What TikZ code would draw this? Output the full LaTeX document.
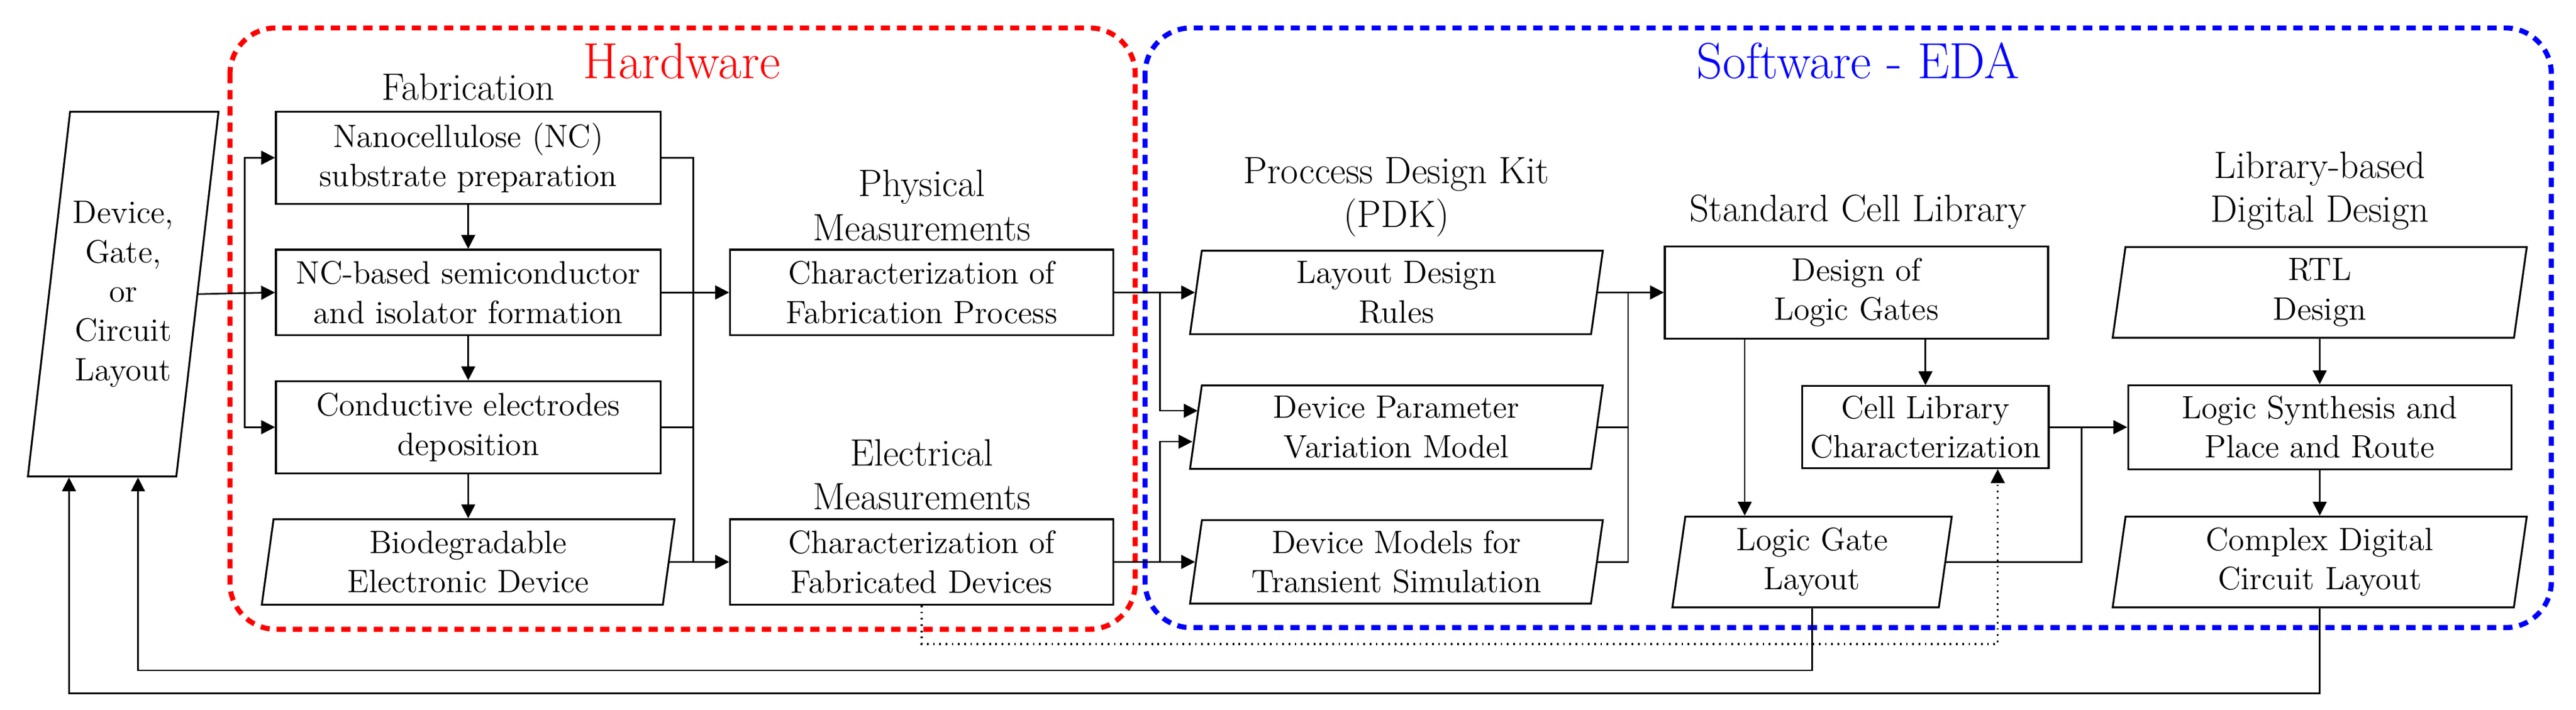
\documentclass[tikz,border=0pt]{standalone}
\usetikzlibrary{shapes.geometric,arrows.meta}
\tikzset{
  box/.style={draw, line width=0.8pt, align=center, inner sep=1pt, font=\fontsize{14}{17}\selectfont},
  io/.style={box, trapezium, trapezium stretches body, trapezium left angle=80, trapezium right angle=100},
  head/.style={align=center, font=\fontsize{16.5}{19}\selectfont},
  link/.style={line width=0.7pt, -{Triangle[length=6pt,width=6pt]}},
  wire/.style={line width=0.7pt},
  frame/.style={line width=2.2pt, rounded corners=0.7cm, dash pattern=on 4pt off 3pt}
}
\begin{document}
\begin{tikzpicture}[x=0.025cm,y=-0.025cm]
	\useasboundingbox (0,0) rectangle (1568,432);
	% groups
	\draw [frame, red] (140,17) rectangle (691,383);
	\draw [frame, blue] (697,17) rectangle (1553,382);
	\node [red, font=\fontsize{22}{26}\selectfont] at (415,37) {Hardware};
	\node [blue, font=\fontsize{22}{26}\selectfont] at (1131,37) {Software - EDA};

	% input
	\node [io, trapezium left angle=77.5, trapezium right angle=102.5, minimum width=2.9cm, minimum height=5.55cm] (dev) at (75,179) {Device,\\Gate,\\or\\Circuit\\Layout};

	% fabrication
	\node [head] at (285,53) {Fabrication};
	\node [box, minimum width=5.85cm, minimum height=1.4cm] (fab1) at (285,96) {Nanocellulose (NC)\\substrate preparation};
	\node [box, minimum width=5.85cm, minimum height=1.3cm] (fab2) at (285,178) {NC-based semiconductor\\and isolator formation};
	\node [box, minimum width=5.85cm, minimum height=1.4cm] (fab3) at (285,260) {Conductive electrodes\\deposition};
	\node [io, minimum width=6.28cm, minimum height=1.3cm] (fab4) at (285,342) {Biodegradable\\Electronic Device};

	% measurements
	\node [head] at (561,125) {Physical\\Measurements};
	\node [box, minimum width=5.83cm, minimum height=1.3cm] (phys) at (561,178) {Characterization of\\Fabrication Process};
	\node [head] at (561,289) {Electrical\\Measurements};
	\node [box, minimum width=5.83cm, minimum height=1.3cm] (elec) at (561,342) {Characterization of\\Fabricated Devices};

	% PDK
	\node [head] at (850,120) {Proccess Design Kit\\(PDK)};
	\node [io, minimum width=6.28cm, minimum height=1.27cm] (ldr) at (850,178) {Layout Design\\Rules};
	\node [io, minimum width=6.28cm, minimum height=1.27cm] (dpv) at (850,260) {Device Parameter\\Variation Model};
	\node [io, minimum width=6.28cm, minimum height=1.27cm] (dmt) at (850,342) {Device Models for\\Transient Simulation};

	% standard cells
	\node [head] at (1131,129) {Standard Cell Library};
	\node [box, minimum width=5.83cm, minimum height=1.4cm] (dlg) at (1130,178) {Design of\\Logic Gates};
	\node [box, minimum width=3.75cm, minimum height=1.25cm] (clc) at (1172,260) {Cell Library\\Characterization};
	\node [io, minimum width=4.25cm, minimum height=1.38cm] (lgl) at (1103,342) {Logic Gate\\Layout};

	% digital design
	\node [head] at (1412,116) {Library-based\\Digital Design};
	\node [io, minimum width=6.3cm, minimum height=1.38cm] (rtl) at (1412,178) {RTL\\Design};
	\node [box, minimum width=5.83cm, minimum height=1.28cm] (lspr) at (1412,260) {Logic Synthesis and\\Place and Route};
	\node [io, minimum width=6.3cm, minimum height=1.38cm] (cdcl) at (1412,342) {Complex Digital\\Circuit Layout};

	% bus points
	\coordinate (lb) at (149,179);
	\coordinate (rb) at (422,0);
	\coordinate (pb) at (706,0);
	\coordinate (qb) at (991,0);
	\coordinate (sb) at (1267,0);
	\coordinate (gl) at (1062,0);
	\coordinate (fb1) at (84,408);
	\coordinate (fb2) at (42,422);
	\coordinate (dt) at (1216,392);

	% hardware flow
	\draw [link] (dev.east) -- (fab2.west);
	\draw [link] (lb) |- (fab1.west);
	\draw [link] (lb) |- (fab3.west);
	\foreach \a/\b in {fab1/fab2, fab2/fab3, fab3/fab4}
		\draw [link] (\a.south) -- (\b.north);
	\draw [wire] (fab1.east) -| (rb |- fab4.east);
	\draw [wire] (fab3.east) -- (rb |- fab3.east);
	\draw [link] (fab2.east) -- (phys.west);
	\draw [link] (fab4.east) -- (elec.west);

	% PDK flow
	\draw [link] (phys.east) -- (ldr.west);
	\draw [link] (pb |- phys.east) |- ([shift={(0.04cm,0.25cm)}]dpv.west);
	\draw [link] (pb |- elec.east) |- ([shift={(-0.04cm,-0.22cm)}]dpv.west);
	\draw [link] (elec.east) -- (dmt.west);
	\draw [wire] (dmt.east) -| (qb |- ldr.east);
	\draw [wire] (dpv.east) -- (qb |- dpv.east);
	\draw [link] (ldr.east) -- (dlg.west);

	% cell flow
	\draw [link] (dlg.south -| clc.north) -- (clc.north);
	\draw [link] (gl |- dlg.south) -- (gl |- lgl.north);
	\draw [wire] (lgl.east) -| (sb |- clc.east);
	\draw [link] (clc.east) -- (lspr.west);
	\draw [link] (rtl) -- (lspr);
	\draw [link] (lspr) -- (cdcl);

	% feedback
	\draw [link] (lgl.south) |- (fb1) -- (fb1 |- dev.south);
	\draw [link] (cdcl.south) |- (fb2) -- (fb2 |- dev.south);
	\draw [link, dotted, line width=0.9pt] (elec.south) |- (dt) -- (dt |- clc.south);
\end{tikzpicture}
\end{document}
